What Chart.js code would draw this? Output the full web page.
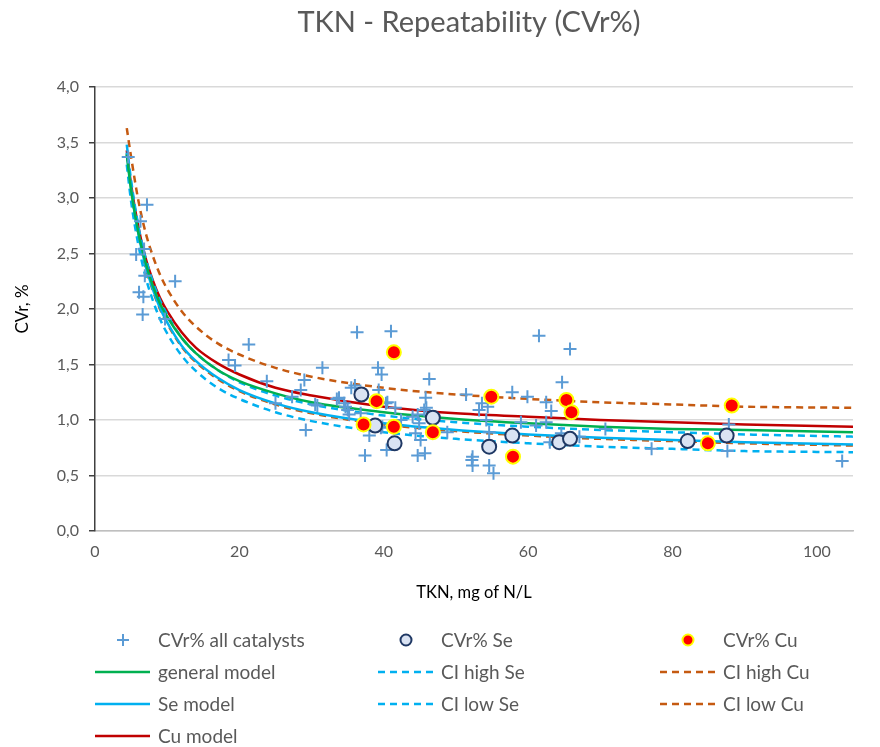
<!DOCTYPE html>
<html>
<head>
<meta charset="utf-8">
<title>TKN - Repeatability (CVr%)</title>
<script src="https://cdn.jsdelivr.net/npm/chart.js@4.4.1/dist/chart.umd.min.js"></script>
<style>
  html, body { margin: 0; padding: 0; background: #fff; }
</style>
</head>
<body>
<canvas id="cvrChart" width="880" height="747"></canvas>
<script>
// CVr% measured for every catalyst
const allX = [4.6, 7.2, 6.3, 6.8, 5.7, 6.9, 11.1, 6.1, 6.7, 6.6, 9.7, 21.3, 18.5, 19.4, 23.8, 25.0, 27.3, 28.5,
   29.0, 29.2, 31.5, 36.3, 41.0, 39.2, 39.7, 46.3, 35.5, 36.0, 39.3, 33.8, 30.8, 34.7, 35.2, 36.8, 40.5, 41.6,
   45.8, 45.9, 51.4, 53.2, 38.0, 39.6, 40.4, 37.4, 44.4, 45.1, 44.7, 45.7, 48.8, 52.2, 52.3, 44.7, 42.4, 53.6,
   54.4, 54.2, 57.8, 59.9, 61.5, 65.8, 64.7, 62.5, 63.2, 62.5, 59.0, 61.1, 54.6, 54.6, 55.2, 63.0, 64.6, 67.1,
   70.7, 77.1, 87.8, 87.6, 103.5, 30.5, 33.5, 34.5, 35.0, 40.3, 39.8, 44.0, 45.6, 44.9, 52.3];
const allY = [3.37, 2.94, 2.79, 2.54, 2.49, 2.30, 2.25, 2.15, 2.11, 1.95, 1.91, 1.68, 1.54, 1.49, 1.35, 1.15, 1.21, 1.27,
   1.36, 0.91, 1.47, 1.79, 1.80, 1.47, 1.41, 1.37, 1.29, 1.31, 1.27, 1.20, 1.13, 1.12, 1.05, 1.06, 1.16, 1.11,
   1.20, 1.11, 1.23, 1.09, 0.86, 0.93, 0.73, 0.68, 0.88, 0.82, 0.68, 0.70, 0.89, 0.64, 0.59, 1.05, 1.00, 1.15,
   1.12, 1.00, 1.25, 1.21, 1.76, 1.64, 1.34, 1.16, 1.08, 0.98, 0.98, 0.95, 0.89, 0.59, 0.52, 0.80, 0.88, 0.85,
   0.92, 0.74, 0.96, 0.72, 0.63, 1.14, 1.19, 1.15, 1.09, 1.15, 0.94, 1.03, 1.09, 0.97, 0.67];

// selenium catalyst
const seX = [36.9, 38.8, 41.5, 46.8, 54.6, 57.8, 64.3, 65.8, 82.1, 87.5];
const seY = [1.23, 0.95, 0.79, 1.02, 0.76, 0.86, 0.80, 0.83, 0.81, 0.86];

// copper catalyst
const cuX = [41.4, 37.2, 39.0, 41.4, 46.8, 54.9, 57.9, 65.3, 66.0, 84.9, 88.2];
const cuY = [1.61, 0.96, 1.17, 0.94, 0.89, 1.21, 0.67, 1.18, 1.07, 0.79, 1.13];

// model curves and confidence limits, sampled along TKN
const curveX = [4.4, 5, 6, 7, 8, 9, 10, 12, 14, 17, 20, 25, 30, 40, 50, 60, 70, 80, 90, 105];
const generalModel = [3.39, 3.07, 2.69, 2.42, 2.21, 2.05, 1.93, 1.74, 1.60, 1.45, 1.35, 1.24, 1.16, 1.07, 1.01, 0.97, 0.94, 0.92, 0.91, 0.89];
const seModel = [3.41, 3.09, 2.68, 2.39, 2.18, 2.01, 1.88, 1.67, 1.53, 1.38, 1.27, 1.15, 1.07, 0.97, 0.91, 0.87, 0.84, 0.82, 0.80, 0.78];
const cuModel = [3.43, 3.12, 2.74, 2.46, 2.26, 2.10, 1.98, 1.79, 1.65, 1.51, 1.41, 1.29, 1.22, 1.12, 1.06, 1.03, 1.00, 0.98, 0.96, 0.94];
const ciHighSe = [3.48, 3.16, 2.75, 2.46, 2.25, 2.08, 1.95, 1.74, 1.60, 1.45, 1.34, 1.22, 1.14, 1.04, 0.98, 0.94, 0.91, 0.89, 0.87, 0.85];
const ciLowSe = [3.30, 2.97, 2.58, 2.29, 2.08, 1.91, 1.78, 1.58, 1.44, 1.29, 1.19, 1.07, 0.99, 0.89, 0.83, 0.79, 0.76, 0.74, 0.72, 0.71];
const ciHighCu = [3.63, 3.37, 2.98, 2.69, 2.48, 2.31, 2.18, 1.98, 1.84, 1.69, 1.59, 1.47, 1.39, 1.29, 1.23, 1.19, 1.16, 1.14, 1.12, 1.11];
const ciLowCu = [3.40, 3.08, 2.67, 2.38, 2.17, 2.00, 1.87, 1.66, 1.52, 1.37, 1.26, 1.14, 1.06, 0.96, 0.90, 0.86, 0.83, 0.81, 0.79, 0.77];

const FONT = 'Lato';
const TEXT = '#595959';
const TITLE = 'TKN - Repeatability (CVr%)';

const pts = (xs, ys) => xs.map((x, i) => ({ x: x, y: ys[i] }));

function curve(label, ys, color, dashed) {
   return {
      label: label,
      data: pts(curveX, ys),
      showLine: true,
      borderColor: color,
      backgroundColor: color,
      borderWidth: 2.5,
      borderDash: dashed ? [7, 5] : [],
      pointRadius: 0,
      cubicInterpolationMode: 'monotone',
      order: 3
   };
}

// title centred over the plot, legend in three fixed columns under the x axis title
const chartDecor = {
   id: 'chartDecor',
   afterDraw(chart) {
      const ctx = chart.ctx;
      ctx.save();
      ctx.fillStyle = TEXT;
      ctx.font = '29px ' + FONT;
      ctx.textAlign = 'center';
      ctx.textBaseline = 'middle';
      ctx.fillText(TITLE, 469, 23);
      ctx.restore();

      const colStart = [95, 378, 660];
      const rowY = [640, 672, 704, 736];
      chart.data.datasets.forEach((ds, i) => {
         const x0 = colStart[i % 3];
         const y = rowY[Math.floor(i / 3)];
         const cx = x0 + 28;
         ctx.save();
         if (ds.showLine) {
            ctx.strokeStyle = ds.borderColor;
            ctx.lineWidth = ds.borderWidth;
            ctx.setLineDash(ds.borderDash);
            ctx.beginPath();
            ctx.moveTo(x0, y);
            ctx.lineTo(x0 + 55, y);
            ctx.stroke();
         } else if (ds.pointStyle === 'cross') {
            ctx.strokeStyle = ds.borderColor;
            ctx.lineWidth = 2;
            ctx.beginPath();
            ctx.moveTo(cx - 6, y); ctx.lineTo(cx + 6, y);
            ctx.moveTo(cx, y - 6); ctx.lineTo(cx, y + 6);
            ctx.stroke();
         } else {
            ctx.fillStyle = ds.backgroundColor;
            ctx.strokeStyle = ds.borderColor;
            ctx.lineWidth = 2;
            ctx.beginPath();
            ctx.arc(cx, y, 5.5, 0, Math.PI * 2);
            ctx.fill();
            ctx.stroke();
         }
         ctx.restore();
         ctx.save();
         ctx.fillStyle = TEXT;
         ctx.font = '19px ' + FONT;
         ctx.textBaseline = 'middle';
         ctx.fillText(ds.label, x0 + 63, y + 1);
         ctx.restore();
      });
   }
};

const ctx = document.getElementById('cvrChart').getContext('2d');
const cvrChart = new Chart(ctx, {
   type: 'scatter',
   data: {
      datasets: [
         {
            label: 'CVr% all catalysts',
            data: pts(allX, allY),
            pointStyle: 'cross',
            pointRadius: 6.5,
            borderColor: '#5b9bd5',
            backgroundColor: '#5b9bd5',
            borderWidth: 2,
            order: 2
         },
         {
            label: 'CVr% Se',
            data: pts(seX, seY),
            pointStyle: 'circle',
            pointRadius: 7,
            backgroundColor: '#dae3f3',
            borderColor: '#1f3864',
            borderWidth: 2,
            order: 1
         },
         {
            label: 'CVr% Cu',
            data: pts(cuX, cuY),
            pointStyle: 'circle',
            pointRadius: 7,
            backgroundColor: '#ff0000',
            borderColor: '#ffff00',
            borderWidth: 2,
            order: 0
         },
         curve('general model', generalModel, '#00b050', false),
         curve('CI high Se', ciHighSe, '#00b0f0', true),
         curve('CI high Cu', ciHighCu, '#c55a11', true),
         curve('Se model', seModel, '#00b0f0', false),
         curve('CI low Se', ciLowSe, '#00b0f0', true),
         curve('CI low Cu', ciLowCu, '#c55a11', true),
         curve('Cu model', cuModel, '#c00000', false)
      ]
   },
   options: {
      responsive: false,
      animation: false,
      events: [],
      layout: { padding: { left: 0, right: 27, top: 87, bottom: 144 } },
      plugins: {
         legend: { display: false },
         tooltip: { enabled: false },
         title: { display: false }
      },
      scales: {
         x: {
            type: 'linear',
            min: 0,
            max: 105,
            afterFit: s => { s.height = 72; },
            ticks: { stepSize: 20, includeBounds: false, color: TEXT, font: { family: FONT, size: 16 }, padding: 11 },
            grid: { display: false, drawTicks: false },
            border: { color: '#bfbfbf', width: 1.5 },
            title: { display: true, text: 'TKN, mg of N/L', color: '#000', font: { family: FONT, size: 16.5 }, padding: { top: 4, bottom: 0 } }
         },
         y: {
            min: 0,
            max: 4,
            afterFit: s => { s.width = 95; },
            ticks: {
               stepSize: 0.5,
               color: TEXT,
               font: { family: FONT, size: 16 },
               padding: 10,
               callback: v => v.toFixed(1).replace('.', ',')
            },
            grid: { color: '#d9d9d9', lineWidth: 1.5, tickColor: '#404040', tickLength: 6 },
            border: { color: '#404040', width: 1.5 },
            title: { display: true, text: 'CVr, %', color: '#000', font: { family: FONT, size: 17 }, padding: { top: 12, bottom: 4 } }
         }
      }
   },
   plugins: [chartDecor]
});
</script>
</body>
</html>
